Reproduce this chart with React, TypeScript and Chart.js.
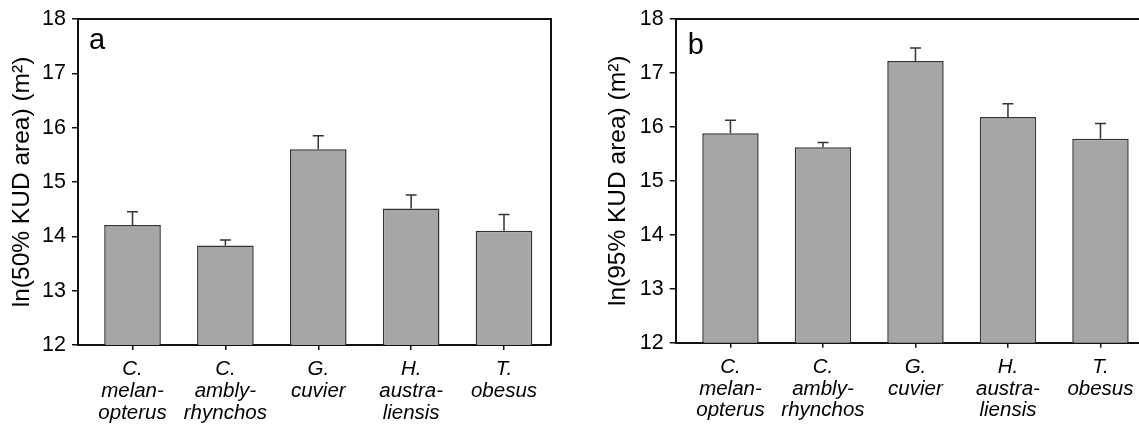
import React, { useEffect, useRef } from "react";
import { Chart, registerables } from "chart.js";

Chart.register(...registerables);

// ---- data ----
const species: string[][] = [
  ["C.", "melan-", "opterus"],
  ["C.", "ambly-", "rhynchos"],
  ["G.", "cuvier"],
  ["H.", "austra-", "liensis"],
  ["T.", "obesus"],
];
const kud50Mean = [14.21, 13.83, 15.6, 14.51, 14.1];
const kud50Err = [0.24, 0.1, 0.25, 0.25, 0.3];
const kud95Mean = [15.88, 15.62, 17.22, 16.18, 15.78];
const kud95Err = [0.24, 0.09, 0.24, 0.25, 0.28];
const yMin = 12;
const yMax = 18;
const yStep = 1;
const titleA = "ln(50% KUD area) (m²)";
const titleB = "ln(95% KUD area) (m²)";

const FONT = "'Liberation Sans', Arial, Helvetica, sans-serif";

const errorBars = {
  id: "errorBars",
  afterDatasetsDraw(chart: any, _args: any, opts: any) {
    const { ctx } = chart;
    const yScale = chart.scales.y;
    const meta = chart.getDatasetMeta(0);
    const errs: number[] = opts.errors || [];
    const means: number[] = opts.means || [];
    ctx.save();
    ctx.strokeStyle = "#333";
    ctx.lineWidth = 1.5;
    meta.data.forEach((el: any, i: number) => {
      const yTop = yScale.getPixelForValue(means[i] + errs[i]);
      ctx.beginPath();
      ctx.moveTo(el.x, el.y);
      ctx.lineTo(el.x, yTop);
      ctx.moveTo(el.x - 5.5, yTop);
      ctx.lineTo(el.x + 5.5, yTop);
      ctx.stroke();
    });
    ctx.restore();
  },
};

const frameAndLetter = {
  id: "frameAndLetter",
  afterDraw(chart: any, _args: any, opts: any) {
    const { ctx, chartArea } = chart;
    ctx.save();
    ctx.strokeStyle = "#111";
    ctx.lineWidth = 2;
    ctx.beginPath();
    ctx.moveTo(chartArea.left, chartArea.top);
    ctx.lineTo(chartArea.right, chartArea.top);
    ctx.lineTo(chartArea.right, chartArea.bottom);
    ctx.stroke();
    ctx.fillStyle = "#000";
    ctx.font = `29px ${FONT}`;
    ctx.textBaseline = "alphabetic";
    ctx.textAlign = "left";
    ctx.fillText(opts.letter, chartArea.left + opts.dx, chartArea.top + opts.dy);
    ctx.restore();
  },
};

function makeChart(
  canvas: HTMLCanvasElement,
  means: number[],
  errs: number[],
  title: string,
  cfg: {
    yWidth: number;
    xHeight: number;
    padTop: number;
    padRight: number;
    xMin: number;
    xMax: number;
    titlePad: number;
    letter: string;
    dx: number;
    dy: number;
  }
) {
  return new Chart(canvas, {
    type: "bar",
    data: {
      datasets: [
        {
          data: means.map((v, i) => ({ x: i, y: v })),
          backgroundColor: "#a6a6a6",
          borderColor: "#333333",
          borderWidth: 1.5,
          barPercentage: 0.61,
          categoryPercentage: 1,
        },
      ],
    },
    options: {
      responsive: false,
      animation: false,
      devicePixelRatio: 1,
      layout: { padding: { top: cfg.padTop, right: cfg.padRight, left: 0, bottom: 0 } },
      plugins: {
        legend: { display: false },
        tooltip: { enabled: false },
        errorBars: { means, errors: errs },
        frameAndLetter: { letter: cfg.letter, dx: cfg.dx, dy: cfg.dy },
      } as any,
      scales: {
        x: {
          type: "linear",
          min: cfg.xMin,
          max: cfg.xMax,
          offset: false,
          afterFit: (s: any) => {
            s.height = cfg.xHeight;
          },
          afterBuildTicks: (s: any) => {
            s.ticks = species.map((_, i) => ({ value: i }));
          },
          grid: {
            display: true,
            offset: false,
            drawOnChartArea: false,
            drawTicks: true,
            tickLength: 5,
            color: "#111",
            lineWidth: 1.5,
          },
          border: { display: true, color: "#111", width: 2 },
          ticks: {
            autoSkip: false,
            maxRotation: 0,
            padding: 9,
            color: "#000",
            font: { family: FONT, size: 20.5, style: "italic", lineHeight: 1.05 },
            callback: (v: any) => species[Number(v)] ?? "",
          },
        },
        y: {
          type: "linear",
          min: yMin,
          max: yMax,
          afterFit: (s: any) => {
            s.width = cfg.yWidth;
          },
          grid: {
            display: true,
            drawOnChartArea: false,
            drawTicks: true,
            tickLength: 6,
            color: "#111",
            lineWidth: 1.5,
          },
          border: { display: true, color: "#111", width: 2 },
          ticks: {
            stepSize: yStep,
            padding: 6,
            color: "#000",
            font: { family: FONT, size: 21.5 },
          },
          title: {
            display: true,
            text: title,
            color: "#000",
            font: { family: FONT, size: 24.5 },
            padding: { top: cfg.titlePad, bottom: 0 },
          },
        },
      },
    } as any,
    plugins: [errorBars, frameAndLetter],
  });
}

export default function App() {
  const refA = useRef<HTMLCanvasElement>(null);
  const refB = useRef<HTMLCanvasElement>(null);

  useEffect(() => {
    const a = makeChart(refA.current!, kud50Mean, kud50Err, titleA, {
      yWidth: 78,
      xHeight: 81,
      padTop: 18,
      padRight: 19,
      xMin: -0.587,
      xMax: 4.506,
      titlePad: 8,
      letter: "a",
      dx: 11,
      dy: 30,
    });
    const b = makeChart(refB.current!, kud95Mean, kud95Err, titleB, {
      yWidth: 105.7,
      xHeight: 83.3,
      padTop: 17.5,
      padRight: 23,
      xMin: -0.592,
      xMax: 4.503,
      titlePad: 33.5,
      letter: "b",
      dx: 12,
      dy: 35,
    });
    return () => {
      a.destroy();
      b.destroy();
    };
  }, []);

  return (
    <div
      style={{
        position: "absolute",
        left: 0,
        top: 0,
        width: 1139,
        height: 426,
        overflow: "hidden",
        background: "#fff",
      }}
    >
      <div style={{ position: "absolute", left: 0, top: 0, width: 570, height: 426 }}>
        <canvas ref={refA} width={570} height={426} style={{ display: "block" }} />
      </div>
      <div style={{ position: "absolute", left: 570, top: 0, width: 600, height: 426 }}>
        <canvas ref={refB} width={600} height={426} style={{ display: "block" }} />
      </div>
    </div>
  );
}
